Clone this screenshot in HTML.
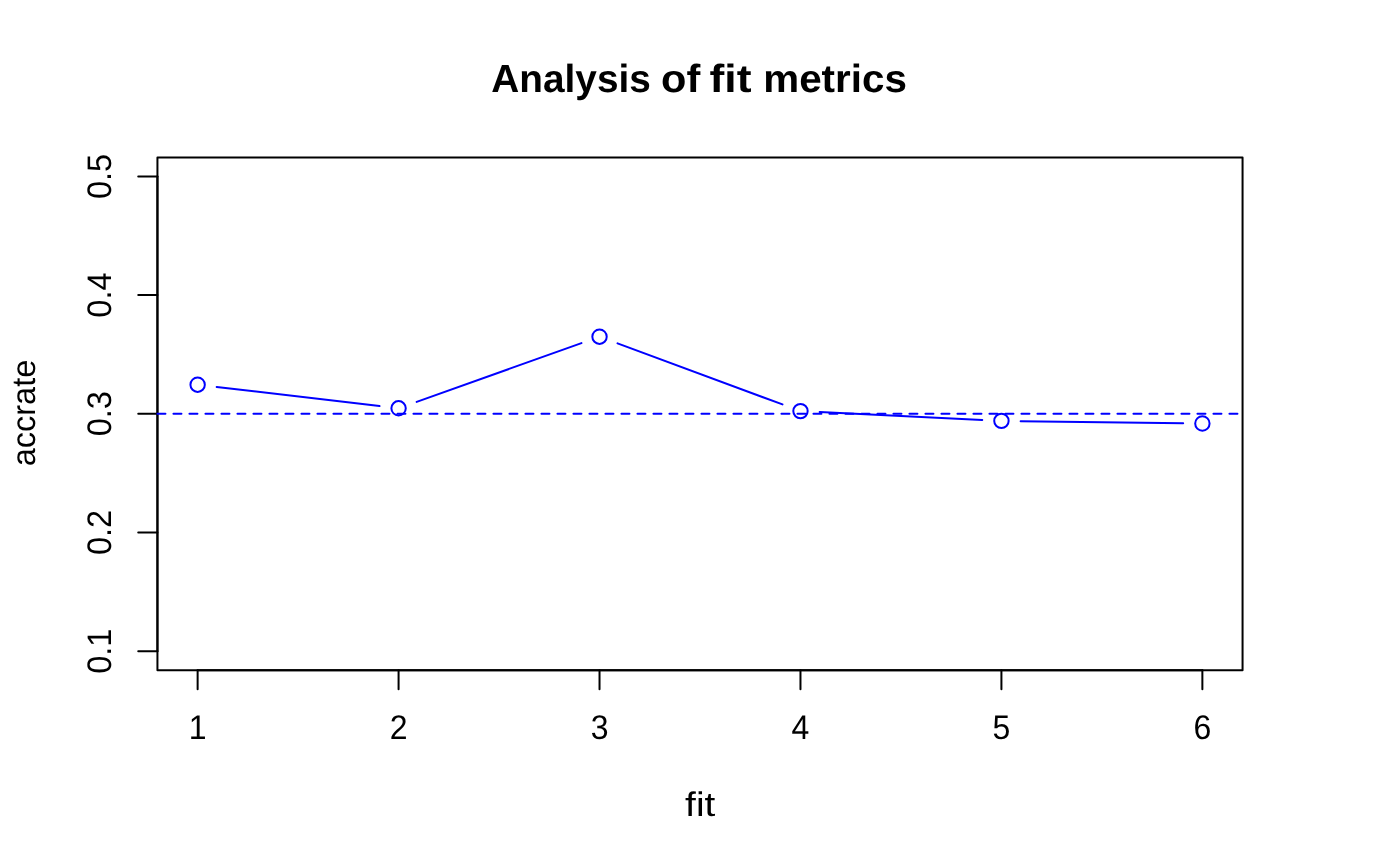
<!DOCTYPE html>
<html><head><meta charset="utf-8"><title>Analysis of fit metrics</title>
<style>html,body{margin:0;padding:0;background:#fff;}svg{display:block;will-change:transform;}text{font-family:"Liberation Sans",sans-serif;fill:#000;text-rendering:geometricPrecision;}</style></head><body>
<svg width="1400" height="866" viewBox="0 0 1400 866">
<rect x="0" y="0" width="1400" height="866" fill="#ffffff"/>
<g stroke="#0000ff" stroke-width="2" fill="none" stroke-linecap="round">
<line x1="216.70" y1="386.94" x2="379.51" y2="406.06"/>
<line x1="416.67" y1="401.86" x2="581.44" y2="343.14"/>
<line x1="617.54" y1="343.37" x2="782.47" y2="404.43"/>
<line x1="819.66" y1="412.04" x2="982.25" y2="419.96"/>
<line x1="1020.63" y1="421.15" x2="1183.18" y2="423.25"/>
<circle cx="197.63" cy="384.70" r="7.2"/>
<circle cx="398.58" cy="408.30" r="7.2"/>
<circle cx="599.53" cy="336.70" r="7.2"/>
<circle cx="800.48" cy="411.10" r="7.2"/>
<circle cx="1001.43" cy="420.90" r="7.2"/>
<circle cx="1202.38" cy="423.50" r="7.2"/>
</g>
<g stroke="#000" stroke-width="2" fill="none" stroke-linecap="round" stroke-linejoin="round">
<rect x="157.44" y="157.44" width="1085.12" height="512.72"/>
<line x1="197.63" y1="670.16" x2="1202.37" y2="670.16"/>
<line x1="197.63" y1="670.16" x2="197.63" y2="689.36"/>
<line x1="398.58" y1="670.16" x2="398.58" y2="689.36"/>
<line x1="599.53" y1="670.16" x2="599.53" y2="689.36"/>
<line x1="800.47" y1="670.16" x2="800.47" y2="689.36"/>
<line x1="1001.42" y1="670.16" x2="1001.42" y2="689.36"/>
<line x1="1202.37" y1="670.16" x2="1202.37" y2="689.36"/>
<line x1="157.44" y1="651.17" x2="157.44" y2="176.43"/>
<line x1="157.44" y1="651.17" x2="138.24" y2="651.17"/>
<line x1="157.44" y1="532.49" x2="138.24" y2="532.49"/>
<line x1="157.44" y1="413.80" x2="138.24" y2="413.80"/>
<line x1="157.44" y1="295.11" x2="138.24" y2="295.11"/>
<line x1="157.44" y1="176.43" x2="138.24" y2="176.43"/>
</g>
<line x1="157.44" y1="413.80" x2="1242.56" y2="413.80" stroke="#0000ff" stroke-width="2" stroke-dasharray="8 8" stroke-linecap="round"/>
<g font-size="33" text-anchor="middle">
<text font-size="34.2" transform="translate(197.63 738.88) scale(0.936 1)">1</text>
<text font-size="34.2" transform="translate(398.58 738.88) scale(0.936 1)">2</text>
<text font-size="34.2" transform="translate(599.53 738.88) scale(0.936 1)">3</text>
<text font-size="34.2" transform="translate(800.47 738.88) scale(0.936 1)">4</text>
<text font-size="34.2" transform="translate(1001.42 738.88) scale(0.936 1)">5</text>
<text font-size="34.2" transform="translate(1202.37 738.88) scale(0.936 1)">6</text>
<text transform="translate(700.2 815.83) scale(1.178 1.035)">fit</text>
<text font-size="34.0" transform="translate(110.56 651.17) rotate(-90) scale(0.955 1)">0.1</text>
<text font-size="34.0" transform="translate(110.56 532.49) rotate(-90) scale(0.955 1)">0.2</text>
<text font-size="34.0" transform="translate(110.56 413.80) rotate(-90) scale(0.955 1)">0.3</text>
<text font-size="34.0" transform="translate(110.56 295.11) rotate(-90) scale(0.955 1)">0.4</text>
<text font-size="34.0" transform="translate(110.56 176.43) rotate(-90) scale(0.955 1)">0.5</text>
<text transform="translate(34.96 413.00) rotate(-90) scale(0.985 1)">accrate</text>
</g>
<g font-size="39.2" font-weight="bold">
<text transform="translate(491.32 91.6) scale(0.9897 1)">Analysis</text>
<text transform="translate(661.07 91.6) scale(1.0591 1)">of</text>
<text transform="translate(709.54 91.6) scale(1.1335 1)">fit</text>
<text transform="translate(763.22 91.6) scale(1.0305 1)">metrics</text>
</g>
</svg></body></html>
